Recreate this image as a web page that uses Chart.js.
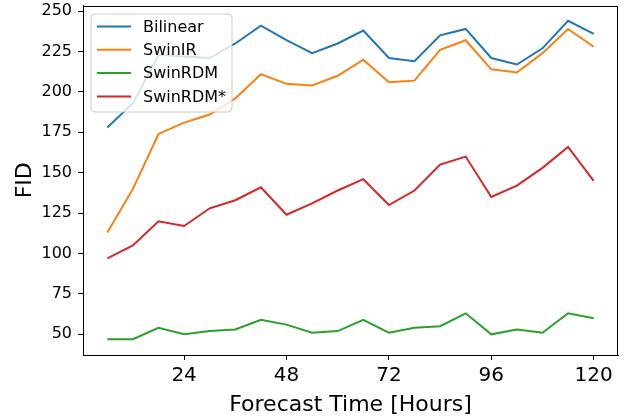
<!DOCTYPE html>
<html>
<head>
<meta charset="utf-8">
<script src="https://cdn.jsdelivr.net/npm/chart.js@4/dist/chart.umd.min.js"></script>
<style>
  html, body { margin: 0; padding: 0; background: #fff; }
  #wrap { width: 630px; height: 420px; }
</style>
</head>
<body>
<div id="wrap"><canvas id="c" width="630" height="420"></canvas></div>
<script>
const hours = [6, 12, 18, 24, 30, 36, 42, 48, 54, 60, 66, 72, 78, 84, 90, 96, 102, 108, 114, 120];
const bilinear = [178, 193, 223, 222, 221, 230, 241, 232, 224, 230, 238, 221, 219, 235, 239, 221, 217, 227, 244, 236];
const swinir = [113, 140, 174, 181, 186, 196, 211, 205, 204, 210, 220, 206, 207, 226, 232, 214, 212, 224, 239, 228];
const swinrdm = [47, 47, 54, 50, 52, 53, 59, 56, 51, 52, 59, 51, 54, 55, 63, 50, 53, 51, 63, 60];
const swinrdmStar = [97, 105, 120, 117, 128, 133, 141, 124, 131, 139, 146, 130, 139, 155, 160, 135, 142, 153, 166, 145];
const xTicks = [24, 48, 72, 96, 120];
const yTicks = [50, 75, 100, 125, 150, 175, 200, 225, 250];
const seriesNames = ['Bilinear', 'SwinIR', 'SwinRDM', 'SwinRDM*'];
const seriesColors = ['#1f77b4', '#ff7f0e', '#2ca02c', '#d62728'];
const seriesData = [bilinear, swinir, swinrdm, swinrdmStar];

const FONT = '"DejaVu Sans", sans-serif';

const frameAndLegend = {
  id: 'frameAndLegend',
  afterDatasetsDraw(chart) {
    const ctx = chart.ctx;
    const a = chart.chartArea;
    ctx.save();
    ctx.strokeStyle = '#000';
    ctx.lineWidth = 1;
    ctx.strokeRect(Math.round(a.left) + 0.5, Math.round(a.top) + 0.5,
                   Math.round(a.right - a.left) - 1, Math.round(a.bottom - a.top) - 1);
    const bx = a.left + 8, by = a.top + 8.5, bw = 141, bh = 98, r = 4;
    ctx.beginPath();
    ctx.moveTo(bx + r, by);
    ctx.lineTo(bx + bw - r, by);
    ctx.quadraticCurveTo(bx + bw, by, bx + bw, by + r);
    ctx.lineTo(bx + bw, by + bh - r);
    ctx.quadraticCurveTo(bx + bw, by + bh, bx + bw - r, by + bh);
    ctx.lineTo(bx + r, by + bh);
    ctx.quadraticCurveTo(bx, by + bh, bx, by + bh - r);
    ctx.lineTo(bx, by + r);
    ctx.quadraticCurveTo(bx, by, bx + r, by);
    ctx.closePath();
    ctx.fillStyle = 'rgba(255,255,255,0.8)';
    ctx.fill();
    ctx.strokeStyle = '#cccccc';
    ctx.lineWidth = 1;
    ctx.stroke();
    ctx.font = '16px ' + FONT;
    ctx.textBaseline = 'middle';
    ctx.textAlign = 'left';
    for (let i = 0; i < seriesNames.length; i++) {
      const yy = by + 12.5 + i * 23.3;
      ctx.strokeStyle = seriesColors[i];
      ctx.lineWidth = 2;
      ctx.beginPath();
      ctx.moveTo(bx + 6, yy);
      ctx.lineTo(bx + 40, yy);
      ctx.stroke();
      ctx.fillStyle = '#000';
      ctx.fillText(seriesNames[i], bx + 52, yy + 1);
    }
    ctx.restore();
  }
};

new Chart(document.getElementById('c'), {
  type: 'line',
  data: {
    datasets: seriesNames.map((name, i) => ({
      label: name,
      data: hours.map((h, j) => ({ x: h, y: seriesData[i][j] })),
      borderColor: seriesColors[i],
      backgroundColor: seriesColors[i],
      borderWidth: 2,
      pointRadius: 0,
      tension: 0,
      fill: false
    }))
  },
  options: {
    responsive: false,
    animation: false,
    devicePixelRatio: 1,
    layout: { padding: { top: 5.5, right: 12, bottom: 0, left: 0 } },
    plugins: { legend: { display: false }, tooltip: { enabled: false } },
    scales: {
      x: {
        type: 'linear',
        min: 0.3,
        max: 125.7,
        afterBuildTicks(s) { s.ticks = xTicks.map(v => ({ value: v })); },
        afterFit(s) { s.height = 65; s.paddingLeft = 0; s.paddingRight = 0; },
        grid: { drawOnChartArea: false, drawTicks: true, tickLength: 5, color: '#000', lineWidth: 1 },
        border: { display: true, color: '#000', width: 1 },
        ticks: { color: '#000', font: { family: FONT, size: 20 }, padding: 4, maxRotation: 0, autoSkip: false },
        title: { display: true, text: 'Forecast Time [Hours]', color: '#000', font: { family: FONT, size: 22 }, padding: { top: 0, bottom: 2 } }
      },
      y: {
        type: 'linear',
        min: 37.2,
        max: 253.5,
        afterBuildTicks(s) { s.ticks = yTicks.map(v => ({ value: v })); },
        afterFit(s) { s.width = 83; s.paddingTop = 0; s.paddingBottom = 0; },
        grid: { drawOnChartArea: false, drawTicks: true, tickLength: 5, color: '#000', lineWidth: 1 },
        border: { display: true, color: '#000', width: 1 },
        ticks: { color: '#000', font: { family: FONT, size: 16 }, padding: 6, autoSkip: false },
        title: { display: true, text: 'FID', color: '#000', font: { family: FONT, size: 22 }, padding: { top: 12, bottom: 0 } }
      }
    }
  },
  plugins: [frameAndLegend]
});
</script>
</body>
</html>
